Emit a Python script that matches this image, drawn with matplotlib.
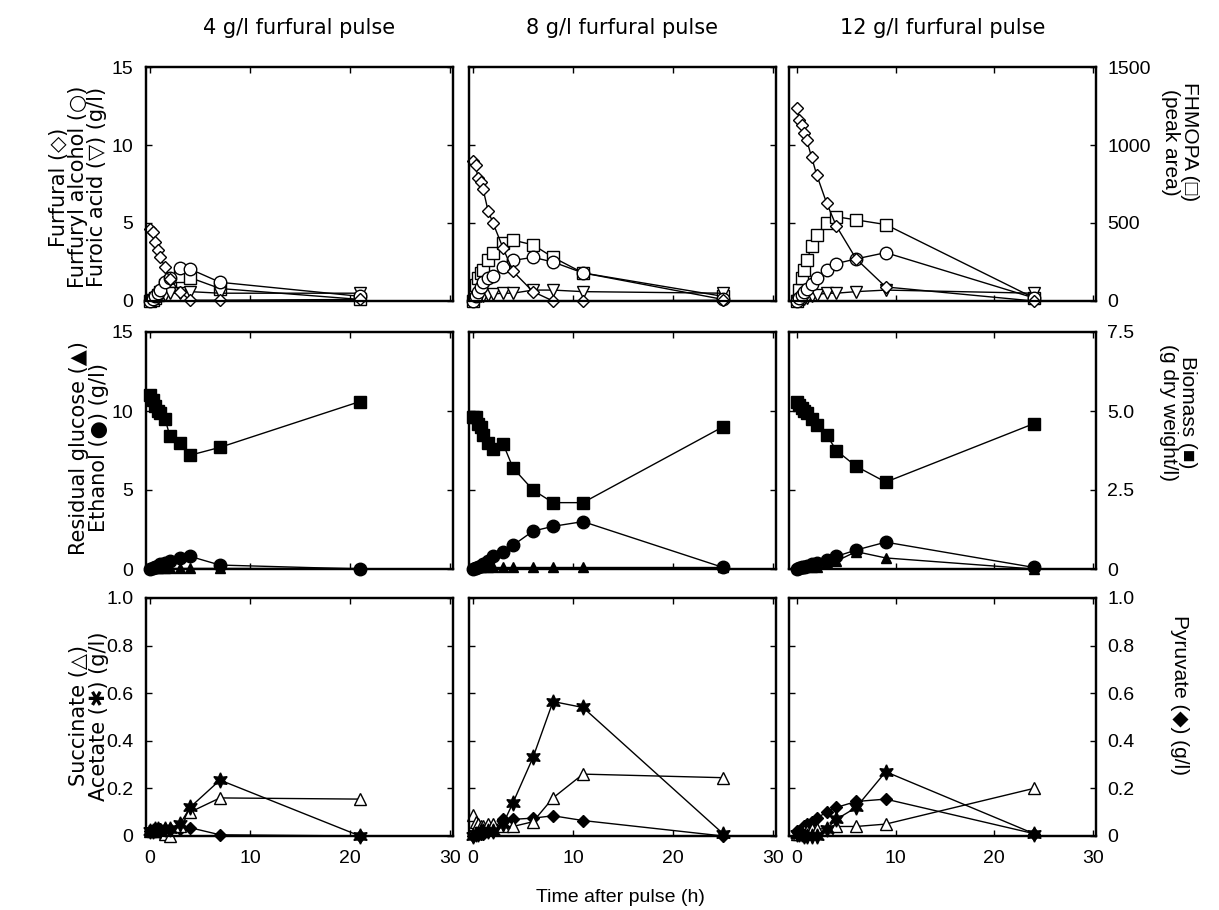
import matplotlib
matplotlib.use("Agg")
import matplotlib.pyplot as plt

plt.rcParams['font.family'] = ['Liberation Sans', 'DejaVu Sans']
plt.rcParams['font.size'] = 14

# sampling times (h) for each pulse
t4 = [0, 0.25, 0.5, 0.75, 1, 1.5, 2, 3, 4, 7, 21]
t8 = [0, 0.25, 0.5, 0.75, 1, 1.5, 2, 3, 4, 6, 8, 11, 25]
t12 = [0, 0.25, 0.5, 0.75, 1, 1.5, 2, 3, 4, 6, 9, 24]

# top row: furfural, furfuryl alcohol, furoic acid (g/l), FHMOPA (peak area)
furfural4 = [4.6, 4.4, 3.8, 3.3, 2.8, 2.2, 1.4, 0.6, 0.05, 0.05, 0.1]
alcohol4 = [0, 0.1, 0.3, 0.5, 0.7, 1.2, 1.5, 2.1, 2.05, 1.2, 0.3]
furoic4 = [0, 0.05, 0.1, 0.2, 0.3, 0.4, 0.5, 0.5, 0.6, 0.5, 0.5]
fhmopa4 = [0, 5, 20, 40, 60, 100, 130, 160, 150, 80, 10]

furfural8 = [9.0, 8.7, 7.9, 7.6, 7.2, 5.8, 5.0, 3.4, 1.9, 0.6, 0.0, 0.0, 0.05]
alcohol8 = [0, 0.3, 0.6, 0.9, 1.2, 1.5, 1.6, 2.2, 2.6, 2.8, 2.5, 1.8, 0.1]
furoic8 = [0, 0.1, 0.2, 0.3, 0.35, 0.4, 0.45, 0.5, 0.5, 0.7, 0.7, 0.6, 0.5]
fhmopa8 = [0, 100, 150, 180, 200, 260, 310, 370, 390, 360, 280, 180, 30]

furfural12 = [12.4, 11.6, 11.3, 10.8, 10.3, 9.2, 8.1, 6.3, 4.8, 2.7, 0.9, 0.0]
alcohol12 = [0, 0.2, 0.4, 0.6, 0.8, 1.1, 1.5, 2.0, 2.4, 2.7, 3.1, 0.2]
furoic12 = [0, 0.05, 0.1, 0.15, 0.2, 0.3, 0.4, 0.5, 0.5, 0.6, 0.7, 0.5]
fhmopa12 = [0, 70, 150, 200, 260, 350, 420, 500, 540, 520, 490, 20]

# middle row: residual glucose, ethanol (g/l), biomass (g dry weight/l)
glucose4 = [0.05, 0.05, 0.05, 0.05, 0.05, 0.05, 0.05, 0.05, 0.05, 0.05, 0.05]
ethanol4 = [0, 0.05, 0.1, 0.2, 0.3, 0.4, 0.5, 0.7, 0.8, 0.25, 0.0]
biomass4 = [5.5, 5.35, 5.15, 5.0, 4.95, 4.75, 4.2, 4.0, 3.6, 3.85, 5.3]

glucose8 = [0.1, 0.1, 0.1, 0.1, 0.1, 0.1, 0.1, 0.1, 0.1, 0.1, 0.1, 0.1, 0.1]
ethanol8 = [0, 0.05, 0.1, 0.2, 0.3, 0.5, 0.8, 1.1, 1.5, 2.4, 2.7, 3.0, 0.1]
biomass8 = [4.82, 4.8, 4.6, 4.5, 4.25, 4.0, 3.8, 3.97, 3.2, 2.5, 2.1, 2.1, 4.5]

glucose12 = [0.05, 0.05, 0.05, 0.1, 0.1, 0.1, 0.1, 0.4, 0.5, 1.1, 0.7, 0.0]
ethanol12 = [0, 0.05, 0.1, 0.15, 0.2, 0.3, 0.4, 0.6, 0.8, 1.2, 1.7, 0.1]
biomass12 = [5.3, 5.2, 5.1, 5.0, 4.95, 4.75, 4.55, 4.25, 3.75, 3.25, 2.75, 4.6]

# bottom row: succinate, acetate, pyruvate (g/l)
succinate4 = [0.02, 0.02, 0.03, 0.03, 0.02, 0.01, 0.0, 0.04, 0.10, 0.16, 0.155]
acetate4 = [0.02, 0.02, 0.03, 0.03, 0.02, 0.03, 0.03, 0.05, 0.12, 0.235, 0.0]
pyruvate4 = [0.02, 0.02, 0.02, 0.02, 0.03, 0.03, 0.03, 0.03, 0.035, 0.005, 0.0]

succinate8 = [0.09, 0.06, 0.05, 0.04, 0.04, 0.05, 0.05, 0.04, 0.04, 0.06, 0.16, 0.26, 0.245]
acetate8 = [0.0, 0.01, 0.01, 0.02, 0.02, 0.02, 0.02, 0.05, 0.14, 0.33, 0.565, 0.54, 0.01]
pyruvate8 = [0.0, 0.01, 0.01, 0.01, 0.01, 0.02, 0.03, 0.07, 0.07, 0.075, 0.085, 0.065, 0.0]

succinate12 = [0.01, 0.01, 0.02, 0.02, 0.02, 0.03, 0.03, 0.03, 0.04, 0.04, 0.05, 0.2]
acetate12 = [0.01, 0.01, 0.01, 0.0, 0.0, 0.0, 0.0, 0.03, 0.07, 0.12, 0.27, 0.01]
pyruvate12 = [0.02, 0.02, 0.03, 0.04, 0.05, 0.06, 0.075, 0.10, 0.12, 0.145, 0.155, 0.01]

titles = ["4 g/l furfural pulse", "8 g/l furfural pulse", "12 g/l furfural pulse"]
times = [t4, t8, t12]

top_left = [(furfural4, alcohol4, furoic4), (furfural8, alcohol8, furoic8), (furfural12, alcohol12, furoic12)]
top_right = [fhmopa4, fhmopa8, fhmopa12]
mid_left = [(glucose4, ethanol4), (glucose8, ethanol8), (glucose12, ethanol12)]
mid_right = [biomass4, biomass8, biomass12]
bot_left = [(succinate4, acetate4), (succinate8, acetate8), (succinate12, acetate12)]
bot_right = [pyruvate4, pyruvate8, pyruvate12]

W, H = 1219, 910
fig = plt.figure(figsize=(W / 100, H / 100), dpi=100)

col_left = [146, 469, 789]
col_w = 307
x_start = [-0.4, -0.4, -0.8]
rows = [(67, 301), (332, 569), (598, 836)]

left_lims = [(0, 15), (0, 15), (0, 1)]
left_ticks = [[0, 5, 10, 15], [0, 5, 10, 15], [0, 0.2, 0.4, 0.6, 0.8, 1.0]]
left_tl = [["0", "5", "10", "15"], ["0", "5", "10", "15"], ["0", "0.2", "0.4", "0.6", "0.8", "1.0"]]
right_lims = [(0, 1500), (0, 7.5), (0, 1)]
right_ticks = [[0, 500, 1000, 1500], [0, 2.5, 5.0, 7.5], [0, 0.2, 0.4, 0.6, 0.8, 1.0]]
right_tl = [["0", "500", "1000", "1500"], ["0", "2.5", "5.0", "7.5"], ["0", "0.2", "0.4", "0.6", "0.8", "1.0"]]

lw = 1.0
open_kw = dict(color='black', mfc='white', mec='black', lw=lw, mew=1.0, clip_on=False)
fill_kw = dict(color='black', mfc='black', mec='black', lw=lw, clip_on=False)

for r, (ytop, ybot) in enumerate(rows):
    for c in range(3):
        x0 = col_left[c] / W
        b = 1 - ybot / H
        h = (ybot - ytop) / H
        ax = fig.add_axes([x0, b, col_w / W, h])
        ax2 = ax.twinx()
        t = times[c]

        if r == 0:
            fur, alc, fa = top_left[c]
            ax2.plot(t, top_right[c], marker='s', ms=8, **open_kw)
            ax.plot(t, fa, marker='v', ms=8, **open_kw)
            ax.plot(t, alc, marker='o', ms=9, **open_kw)
            ax.plot(t, fur, marker='D', ms=6, **open_kw)
        elif r == 1:
            glu, eth = mid_left[c]
            ax2.plot(t, mid_right[c], marker='s', ms=9, **fill_kw)
            ax.plot(t, eth, marker='o', ms=9, **fill_kw)
            ax.plot(t, glu, marker='^', ms=7, **fill_kw)
        else:
            suc, ace = bot_left[c]
            ax2.plot(t, bot_right[c], marker='D', ms=6, **fill_kw)
            ax.plot(t, suc, marker='^', ms=9, **open_kw)
            ax.plot(t, ace, marker=(6, 1, 0), ms=11, **fill_kw)

        ax.set_zorder(ax2.get_zorder() + 1)
        ax.patch.set_visible(False)

        ax.set_xlim(x_start[c], 30.3)
        ax.set_ylim(*left_lims[r])
        ax2.set_ylim(*right_lims[r])
        ax.set_xticks([0, 10, 20, 30])
        ax.set_yticks(left_ticks[r])
        ax2.set_yticks(right_ticks[r])
        ax.tick_params(axis='y', direction='in', length=4, width=1, right=False, pad=9, labelsize=14)
        ax.tick_params(axis='x', direction='in', length=4, width=1, top=True, pad=10, labelsize=14)
        ax2.tick_params(direction='in', length=4, width=1, pad=8, labelsize=14)

        if c == 0:
            ax.set_yticklabels(left_tl[r])
        else:
            ax.set_yticklabels([])
        if c == 2:
            ax2.set_yticklabels(right_tl[r])
        else:
            ax2.set_yticklabels([])
        if r == 2:
            ax.set_xticklabels(["0", "10", "20", "30"])
        else:
            ax.set_xticklabels([])
        for sp in ax.spines.values():
            sp.set_linewidth(1.6)
        for sp in ax2.spines.values():
            sp.set_linewidth(1.6)

        if r == 0:
            fig.text((col_left[c] + col_w / 2) / W, 1 - 28 / H, titles[c],
                     ha='center', va='center', fontsize=15, family='DejaVu Sans')

# y-axis captions
lab = dict(ha='center', va='center', multialignment='center', linespacing=0.95)
fig.text(78 / W, 1 - 187 / H, "Furfural (\u25c7)\nFurfuryl alcohol (\u25cb)\nFuroic acid (\u25bd) (g/l)",
         rotation=90, fontsize=15, family='DejaVu Sans', **lab)
fig.text(89 / W, 1 - 448 / H, "Residual glucose (\u25b2)\nEthanol (\u25cf) (g/l)",
         rotation=90, fontsize=15, family='DejaVu Sans', **lab)
fig.text(89 / W, 1 - 716 / H, "Succinate (\u25b3)\nAcetate (\u2731) (g/l)",
         rotation=90, fontsize=15, family='DejaVu Sans', **lab)

fig.text(1180 / W, 1 - 142 / H, "FHMOPA (\u25a1)\n(peak area)",
         rotation=270, fontsize=15, **lab)
fig.text(1178 / W, 1 - 412 / H, "Biomass (\u25a0)\n(g dry weight/l)",
         rotation=270, fontsize=15, **lab)
fig.text(1180 / W, 1 - 695 / H, "Pyruvate (\u25c6) (g/l)",
         rotation=270, fontsize=15, **lab)

fig.text(620 / W, 1 - 897 / H, "Time after pulse (h)", ha='center', va='center', fontsize=14)

fig.savefig("out.png", dpi=100)
